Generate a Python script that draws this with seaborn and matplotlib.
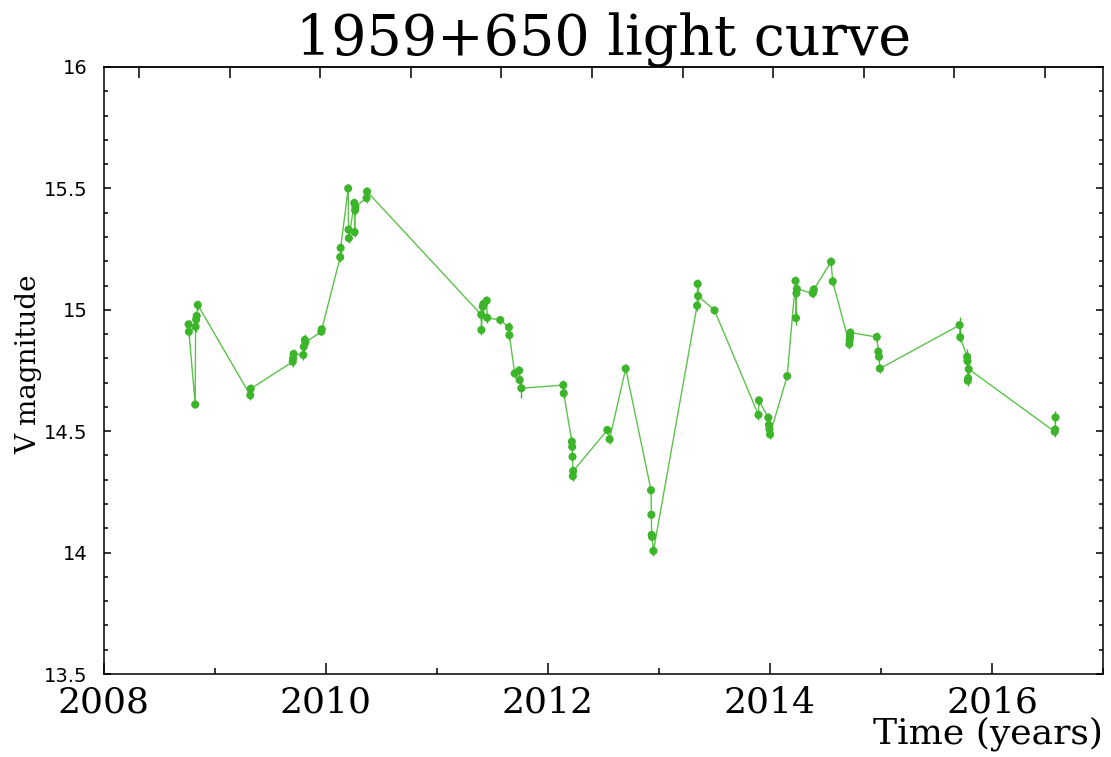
import numpy as np
import pandas as pd
import matplotlib
matplotlib.use("Agg")
import matplotlib.pyplot as plt
import seaborn as sns
from matplotlib.ticker import MultipleLocator

# ---- data ----
year = [
    2008.762, 2008.765, 2008.822, 2008.825, 2008.830, 2008.835, 2008.845,
    2009.318, 2009.322,
    2009.700, 2009.704, 2009.708, 2009.795, 2009.800, 2009.810, 2009.815,
    2009.958, 2009.962,
    2010.128, 2010.132,
    2010.200, 2010.203, 2010.206,
    2010.255, 2010.258, 2010.262, 2010.265,
    2010.365, 2010.370,
    2011.398, 2011.400, 2011.412, 2011.418, 2011.448, 2011.452,
    2011.570,
    2011.648, 2011.652,
    2011.700, 2011.740, 2011.745, 2011.760,
    2012.138, 2012.142,
    2012.215, 2012.218, 2012.221, 2012.224, 2012.227,
    2012.535, 2012.555,
    2012.700,
    2012.928, 2012.931, 2012.934, 2012.937, 2012.950,
    2013.343, 2013.348, 2013.352,
    2013.500,
    2013.896, 2013.900,
    2013.985, 2013.990, 2013.995, 2014.000,
    2014.155,
    2014.230, 2014.234, 2014.238, 2014.242,
    2014.385, 2014.390, 2014.395,
    2014.550,
    2014.565,
    2014.715, 2014.718, 2014.721, 2014.724,
    2014.962, 2014.976, 2014.982, 2014.990,
    2015.708, 2015.714,
    2015.776, 2015.779, 2015.782, 2015.785, 2015.790,
    2016.565, 2016.568, 2016.572,
]
vmag = [
    14.94, 14.91, 14.61, 14.93, 14.96, 14.975, 15.02,
    14.648, 14.675,
    14.786, 14.800, 14.818, 14.814, 14.848, 14.876, 14.866,
    14.910, 14.920,
    15.217, 15.255,
    15.500, 15.330, 15.295,
    15.440, 15.320, 15.410, 15.425,
    15.460, 15.487,
    14.980, 14.917, 15.013, 15.024, 15.038, 14.967,
    14.958,
    14.928, 14.896,
    14.738, 14.750, 14.711, 14.677,
    14.690, 14.656,
    14.457, 14.436, 14.395, 14.315, 14.336,
    14.505, 14.467,
    14.758,
    14.257, 14.156, 14.073, 14.065, 14.007,
    15.017, 15.107, 15.057,
    14.998,
    14.567, 14.627,
    14.556, 14.526, 14.509, 14.487,
    14.727,
    15.119, 14.966, 15.068, 15.086,
    15.068, 15.075, 15.084,
    15.198,
    15.117,
    14.859, 14.876, 14.890, 14.906,
    14.888, 14.828, 14.807, 14.758,
    14.937, 14.887,
    14.807, 14.789, 14.708, 14.718, 14.756,
    14.498, 14.507, 14.557,
]
verr = [
    0.02, 0.02, 0.015, 0.02, 0.02, 0.02, 0.02,
    0.02, 0.02,
    0.02, 0.02, 0.02, 0.02, 0.02, 0.025, 0.02,
    0.015, 0.015,
    0.02, 0.02,
    0.02, 0.02, 0.02,
    0.02, 0.02, 0.02, 0.02,
    0.02, 0.02,
    0.02, 0.02, 0.02, 0.02, 0.02, 0.02,
    0.015,
    0.02, 0.02,
    0.02, 0.02, 0.02, 0.04,
    0.02, 0.02,
    0.02, 0.02, 0.015, 0.02, 0.02,
    0.015, 0.02,
    0.02,
    0.015, 0.015, 0.015, 0.015, 0.02,
    0.02, 0.02, 0.02,
    0.015,
    0.02, 0.02,
    0.02, 0.02, 0.02, 0.02,
    0.015,
    0.02, 0.03, 0.02, 0.02,
    0.02, 0.02, 0.02,
    0.02,
    0.02,
    0.02, 0.02, 0.02, 0.02,
    0.02, 0.02, 0.02, 0.02,
    0.035, 0.02,
    0.03, 0.02, 0.02, 0.02, 0.02,
    0.02, 0.02, 0.025,
]

title = "1959+650 light curve"
xlabel = "Time (years)"
ylabel = "V magnitude"
xticks = [2008, 2010, 2012, 2014, 2016]
yticks = [13.5, 14, 14.5, 15, 15.5, 16]
yticklabels = ["13.5", "14", "14.5", "15", "15.5", "16"]

df = pd.DataFrame({"year": year, "vmag": vmag, "err": verr})

sns.set_theme(style="ticks")
plt.rcParams["font.family"] = ["DejaVu Serif"]
plt.rcParams["text.color"] = "black"
plt.rcParams["axes.labelcolor"] = "black"
plt.rcParams["xtick.color"] = "black"
plt.rcParams["ytick.color"] = "black"
plt.rcParams["xtick.labelcolor"] = "black"
plt.rcParams["ytick.labelcolor"] = "black"

fig = plt.figure(figsize=(11.11, 7.57), dpi=100)
ax = fig.add_axes([0.0936, 0.1096, 0.8992, 0.8019])

point_color = "#3db52a"
line_color = "#5cc24b"

sns.lineplot(data=df, x="year", y="vmag", sort=False, estimator=None,
             color=line_color, linewidth=1.0, ax=ax, zorder=2)
ax.errorbar(df["year"], df["vmag"], yerr=df["err"], fmt="none",
            ecolor=point_color, elinewidth=1.0, capsize=0, zorder=3)
sns.scatterplot(data=df, x="year", y="vmag", color=point_color, s=34,
                edgecolor="none", linewidth=0, ax=ax, zorder=4)

ax.set_xlim(2008, 2017)
ax.set_ylim(13.5, 16)

ax.set_xticks(xticks)
ax.set_xticklabels([str(t) for t in xticks], fontsize=26, family="DejaVu Serif")
ax.xaxis.set_minor_locator(MultipleLocator(1))
ax.set_yticks(yticks)
ax.set_yticklabels(yticklabels, fontsize=14, family="DejaVu Sans")
ax.yaxis.set_minor_locator(MultipleLocator(0.1))

ax.tick_params(axis="x", which="major", direction="in", length=8, width=1.1,
               pad=8, top=False, color="black")
ax.tick_params(axis="x", which="minor", direction="in", length=4, width=1.1,
               top=False)
ax.tick_params(axis="y", which="major", direction="in", length=5, width=1.1,
               pad=12, right=True, color="black")
ax.tick_params(axis="y", which="minor", direction="in", length=3, width=1.1,
               right=True)

# top axis ticks (unlabelled secondary scale)
top = ax.secondary_xaxis("top")
top.set_xticks(np.arange(2008.315, 2017, 0.8162))
top.tick_params(direction="in", length=8, width=1.1, labeltop=False)
top.spines["top"].set_linewidth(1.1)

for sp in ax.spines.values():
    sp.set_visible(True)
    sp.set_linewidth(1.1)
    sp.set_color("black")

ax.set_title(title, fontsize=40, family="DejaVu Serif", pad=6, color="black")
ax.set_xlabel(xlabel, fontsize=26, family="DejaVu Serif", loc="right", labelpad=-2)
ax.set_ylabel(ylabel, fontsize=20, family="DejaVu Serif")
ax.yaxis.set_label_coords(-0.062, 0.51)
ax.grid(False)

fig.savefig("out.png", dpi=100, facecolor="white")
